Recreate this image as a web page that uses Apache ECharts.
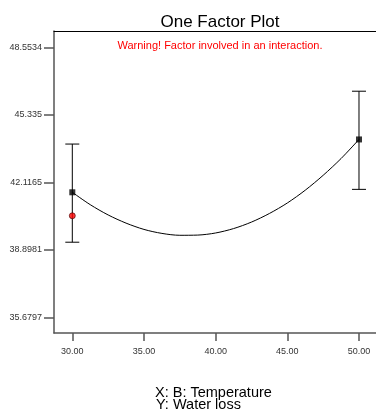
<!DOCTYPE html>
<html>
<head>
<meta charset="utf-8">
<script src="https://cdn.jsdelivr.net/npm/echarts@6/dist/echarts.min.js"></script>
<style>
  html, body { margin: 0; padding: 0; background: #fff; }
  #chart { width: 376px; height: 410px; }
</style>
</head>
<body>
<div id="chart"></div>
<script>
// model curve
var curveX = [30, 31.25, 32.5, 33.75, 35, 36.25, 37.5, 38.75, 40, 41.25, 42.5, 43.75, 45, 46.25, 47.5, 48.75, 50];
var curveY = [41.64, 41.05, 40.56, 40.17, 39.87, 39.68, 39.59, 39.60, 39.70, 39.91, 40.22, 40.63, 41.13, 41.74, 42.45, 43.25, 44.16];

// predicted means with their LSD bars
var meanX = [30, 50];
var meanY = [41.64, 44.16];
var barLow = [39.26, 41.78];
var barHigh = [43.94, 46.46];

// actual design point
var pointX = [30];
var pointY = [40.52];

var xTicks = [30, 35, 40, 45, 50];
var yTicks = [35.6797, 38.8981, 42.1165, 45.335, 48.5534];
var yTickLabels = ['35.6797', '38.8981', '42.1165', '45.335', '48.5534'];

var font = '"Liberation Sans", Arial, sans-serif';
var axisColor = '#555';

var chart = echarts.init(document.getElementById('chart'));

var lineData = curveX.map(function (x, i) { return [x, curveY[i]]; });
var meanData = meanX.map(function (x, i) { return [x, meanY[i]]; });
var barData = meanX.map(function (x, i) { return [x, barLow[i], barHigh[i]]; });
var pointData = pointX.map(function (x, i) { return [x, pointY[i]]; });

var option = {
  animation: false,
  backgroundColor: '#fff',
  title: [
    {
      text: 'One Factor Plot',
      left: 215,
      top: 9,
      textAlign: 'center',
      textStyle: { fontFamily: font, fontSize: 17, fontWeight: 'normal', color: '#000' }
    },
    {
      text: 'Warning! Factor involved in an interaction.',
      left: 215,
      top: 35,
      textAlign: 'center',
      textStyle: { fontFamily: font, fontSize: 11, fontWeight: 'normal', color: '#f00' }
    }
  ],
  graphic: [
    {
      type: 'text', left: 155, top: 385,
      style: { text: 'X: B: Temperature', font: '14.5px ' + font, fill: '#000' }
    },
    {
      type: 'text', left: 156, top: 397,
      style: { text: 'Y: Water loss', font: '14.5px ' + font, fill: '#000' }
    }
  ],
  grid: { left: 54, top: 31, right: 0, bottom: 77 },
  xAxis: [
    {
      type: 'value',
      min: 28.723,
      max: 51.186,
      splitLine: { show: false },
      axisLine: { lineStyle: { color: axisColor, width: 1.5 } },
      axisTick: { customValues: xTicks, length: 8, lineStyle: { color: axisColor, width: 1.5 } },
      axisLabel: {
        customValues: xTicks,
        margin: 14,
        fontFamily: font,
        fontSize: 9,
        color: '#333',
        formatter: function (v) { return v.toFixed(2); }
      }
    },
    {
      type: 'value',
      position: 'top',
      min: 28.723,
      max: 51.186,
      splitLine: { show: false },
      axisLine: { lineStyle: { color: '#000', width: 1 } },
      axisTick: { show: false },
      axisLabel: { show: false }
    }
  ],
  yAxis: {
    type: 'value',
    min: 34.931,
    max: 49.331,
    splitLine: { show: false },
    axisLine: { show: true, lineStyle: { color: axisColor, width: 1.5 } },
    axisTick: { show: true, customValues: yTicks, length: 10, lineStyle: { color: axisColor, width: 1.5 } },
    axisLabel: {
      customValues: yTicks,
      margin: 12,
      fontFamily: font,
      fontSize: 9,
      color: '#333',
      formatter: function (v) {
        var i = yTicks.indexOf(v);
        return i >= 0 ? yTickLabels[i] : String(v);
      }
    }
  },
  series: [
    {
      type: 'line',
      data: lineData,
      smooth: 0.3,
      showSymbol: false,
      lineStyle: { color: '#000', width: 1 },
      z: 2
    },
    {
      type: 'custom',
      data: barData,
      z: 3,
      renderItem: function (params, api) {
        var x = api.value(0);
        var lo = api.coord([x, api.value(1)]);
        var hi = api.coord([x, api.value(2)]);
        var w = 7;
        var st = { stroke: '#000', lineWidth: 1 };
        return {
          type: 'group',
          children: [
            { type: 'line', shape: { x1: lo[0], y1: lo[1], x2: hi[0], y2: hi[1] }, style: st },
            { type: 'line', shape: { x1: lo[0] - w, y1: lo[1], x2: lo[0] + w, y2: lo[1] }, style: st },
            { type: 'line', shape: { x1: hi[0] - w, y1: hi[1], x2: hi[0] + w, y2: hi[1] }, style: st }
          ]
        };
      }
    },
    {
      type: 'scatter',
      data: meanData,
      symbol: 'rect',
      symbolSize: 6,
      itemStyle: { color: '#000' },
      z: 4
    },
    {
      type: 'scatter',
      data: pointData,
      symbol: 'circle',
      symbolSize: 6,
      itemStyle: { color: '#f00', borderColor: '#400', borderWidth: 0.8 },
      z: 5
    }
  ]
};

chart.setOption(option);
</script>
</body>
</html>
